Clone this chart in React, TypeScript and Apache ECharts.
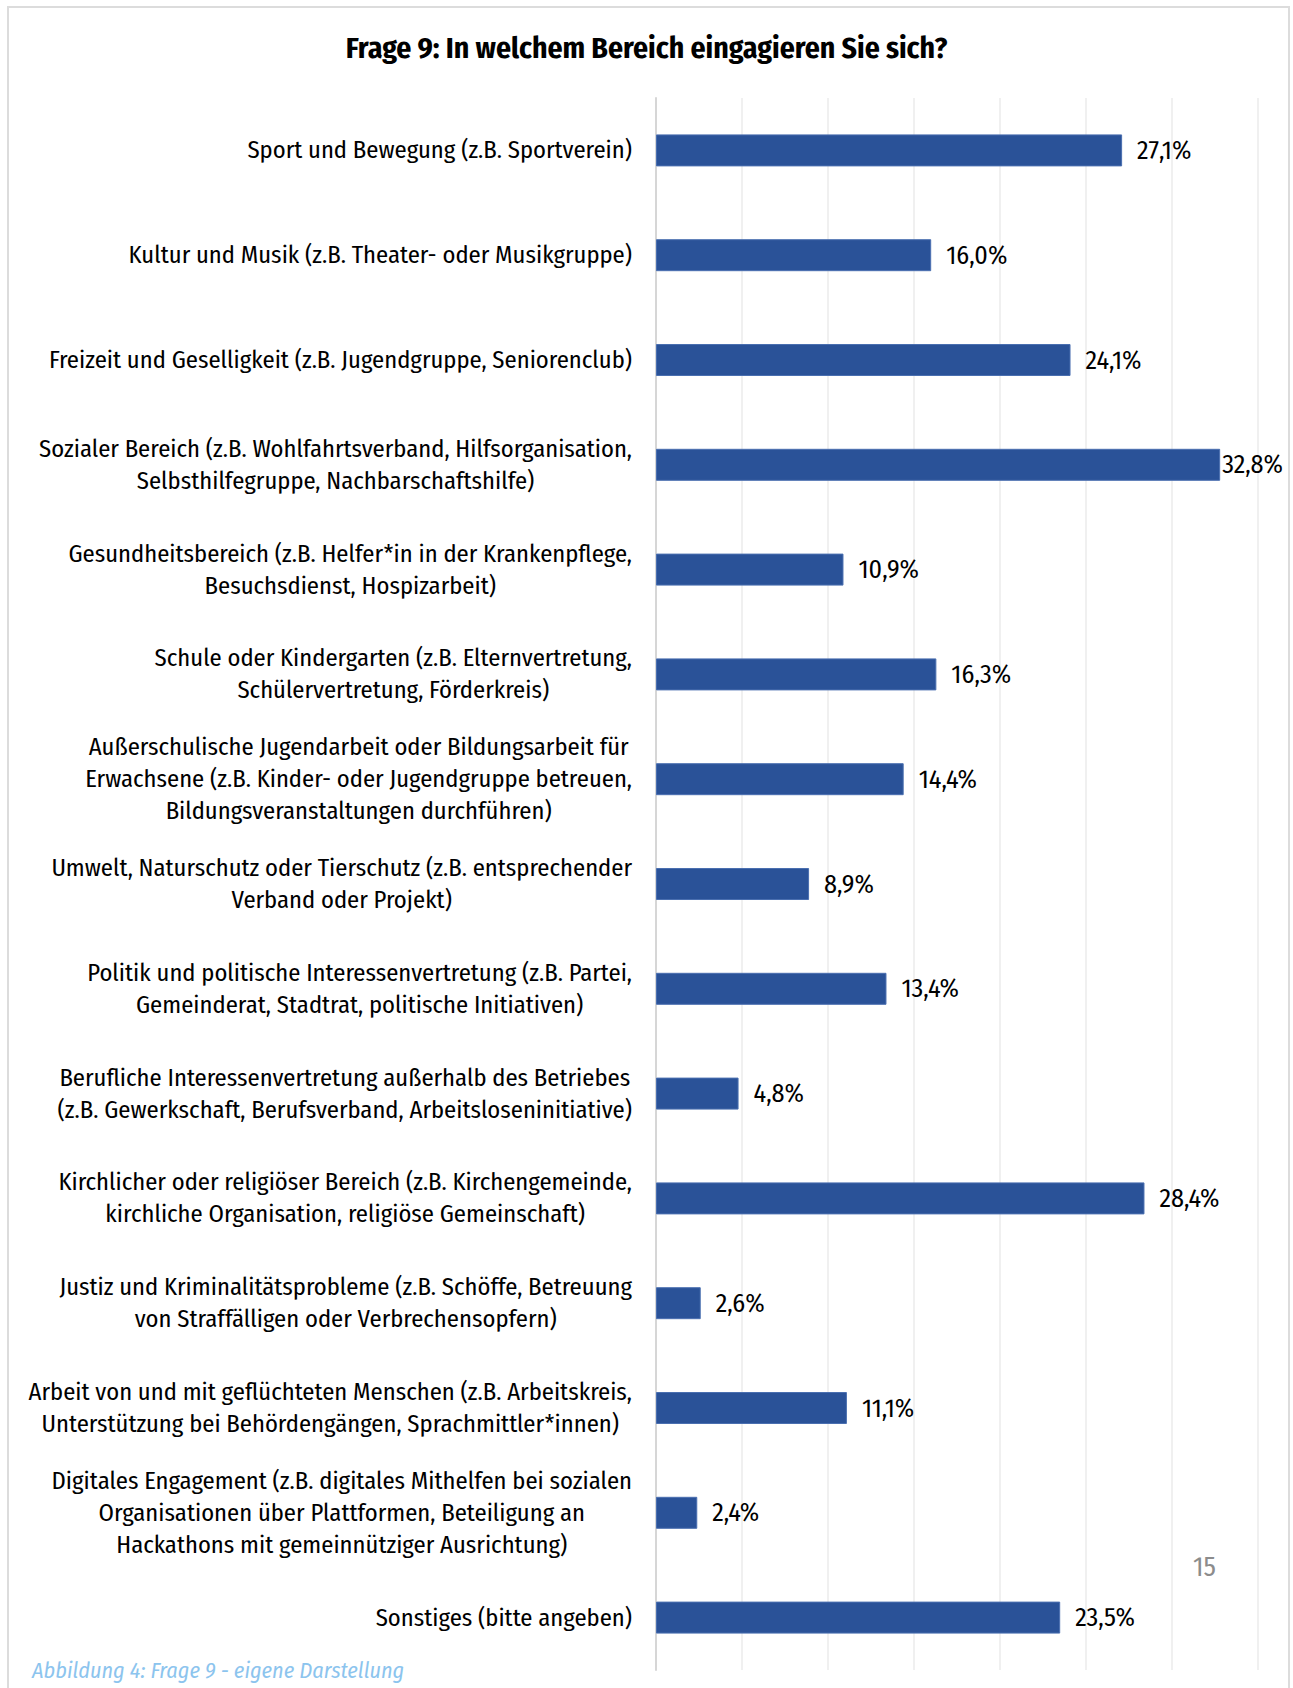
import React, { useEffect, useRef } from "react";
import * as echarts from "echarts";

const categories: string[] = [
  "Sport und Bewegung (z.B. Sportverein)",
  "Kultur und Musik (z.B. Theater- oder Musikgruppe)",
  "Freizeit und Geselligkeit (z.B. Jugendgruppe, Seniorenclub)",
  "Sozialer Bereich (z.B. Wohlfahrtsverband, Hilfsorganisation,\nSelbsthilfegruppe, Nachbarschaftshilfe)",
  "Gesundheitsbereich (z.B. Helfer*in in der Krankenpflege,\nBesuchsdienst, Hospizarbeit)",
  "Schule oder Kindergarten (z.B. Elternvertretung,\nSchülervertretung, Förderkreis)",
  "Außerschulische Jugendarbeit oder Bildungsarbeit für\nErwachsene (z.B. Kinder- oder Jugendgruppe betreuen,\nBildungsveranstaltungen durchführen)",
  "Umwelt, Naturschutz oder Tierschutz (z.B. entsprechender\nVerband oder Projekt)",
  "Politik und politische Interessenvertretung (z.B. Partei,\nGemeinderat, Stadtrat, politische Initiativen)",
  "Berufliche Interessenvertretung außerhalb des Betriebes\n(z.B. Gewerkschaft, Berufsverband, Arbeitsloseninitiative)",
  "Kirchlicher oder religiöser Bereich (z.B. Kirchengemeinde,\nkirchliche Organisation, religiöse Gemeinschaft)",
  "Justiz und Kriminalitätsprobleme (z.B. Schöffe, Betreuung\nvon Straffälligen oder Verbrechensopfern)",
  "Arbeit von und mit geflüchteten Menschen (z.B. Arbeitskreis,\nUnterstützung bei Behördengängen, Sprachmittler*innen)",
  "Digitales Engagement (z.B. digitales Mithelfen bei sozialen\nOrganisationen über Plattformen, Beteiligung an\nHackathons mit gemeinnütziger Ausrichtung)",
  "Sonstiges (bitte angeben)",
];

const values: number[] = [27.1, 16.0, 24.1, 32.8, 10.9, 16.3, 14.4, 8.9, 13.4, 4.8, 28.4, 2.6, 11.1, 2.4, 23.5];

const titleText = "Frage 9: In welchem Bereich eingagieren Sie sich?";
const footerText = "Abbildung 4: Frage 9 - eigene Darstellung";
const pageNumber = "15";

const FONT = "'Fira Sans Condensed', 'Liberation Sans Narrow', 'DejaVu Sans Condensed', 'Roboto Condensed', 'Noto Sans', sans-serif";

export default function App() {
  const ref = useRef<HTMLDivElement>(null);
  useEffect(() => {
    if (!ref.current) return;
    const chart = echarts.init(ref.current, null, { renderer: "svg" });
    chart.setOption({
      animation: false,
      backgroundColor: "#ffffff",
      title: {
        text: titleText,
        left: "center",
        top: 28,
        textStyle: { fontFamily: FONT, fontSize: 29.7, fontWeight: "bold", color: "#000" },
      },
      grid: { left: 656, right: 35, top: 98, bottom: 18, containLabel: false },
      xAxis: {
        type: "value",
        min: 0,
        max: 35,
        interval: 5,
        axisLabel: { show: false },
        axisLine: { show: false },
        axisTick: { show: false },
        splitLine: { show: true, lineStyle: { color: "#ebebeb", width: 1.5 } },
      },
      yAxis: {
        type: "category",
        inverse: true,
        data: categories,
        axisLine: { show: true, lineStyle: { color: "#d6d6d6", width: 2 } },
        axisTick: { show: false },
        axisLabel: {
          margin: 24,
          formatter: (v: string) => v.split("\n").map((l) => `{c|${l}}`).join("\n"),
          rich: {
            c: { align: "center", fontFamily: FONT, fontSize: 24.6, lineHeight: 32, color: "#000" },
          },
        },
      },
      series: [
        {
          type: "bar",
          data: values.map((v) =>
            v > 32 ? { value: v, label: { distance: 2 } } : { value: v }
          ),
          barWidth: 32,
          itemStyle: { color: "#2a5298", borderColor: "#4a6fb0", borderWidth: 1 },
          label: {
            show: true,
            position: "right",
            distance: 15,
            fontFamily: FONT,
            fontSize: 26,
            color: "#000",
            formatter: (p: any) => `${Number(p.value).toFixed(1).replace(".", ",")}%`,
          },
        },
      ],
      graphic: [
        {
          type: "rect",
          shape: { x: 8, y: 7, width: 1281, height: 1720 },
          style: { fill: "none", stroke: "#dcdcdc", lineWidth: 2 },
          silent: true,
          z: 100,
        },
        {
          type: "text",
          left: 32,
          top: 1659,
          style: { text: footerText, fontFamily: FONT, fontStyle: "italic", fontSize: 22.2, fill: "#8cc4ee" },
        },
        {
          type: "text",
          left: 1193,
          top: 1553,
          style: { text: pageNumber, fontFamily: FONT, fontSize: 27, fill: "#8c8c8c" },
        },
      ],
    });
    return () => chart.dispose();
  }, []);
  return (
    <div
      ref={ref}
      style={{ position: "absolute", left: 0, top: 0, width: 1293, height: 1688 }}
    />
  );
}
